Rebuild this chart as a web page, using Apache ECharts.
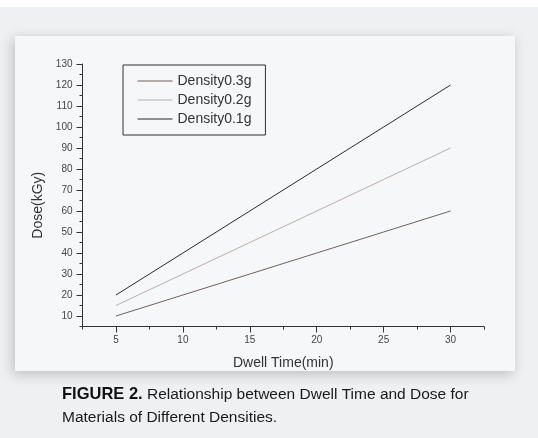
<!DOCTYPE html>
<html>
<head>
<meta charset="utf-8">
<script src="https://cdn.jsdelivr.net/npm/echarts@6/dist/echarts.min.js"></script>
<style>
  html, body { margin: 0; padding: 0; background: #eff0f2; }
  #chart { width: 538px; height: 438px; }
</style>
</head>
<body>
<div id="chart"></div>
<script>
// dwell time (min) and dose (kGy)
var dwellTime = [5, 10, 15, 20, 25, 30];
var dose03 = [10, 20, 30, 40, 50, 60];
var dose02 = [15, 30, 45, 60, 75, 90];
var dose01 = [20, 40, 60, 80, 100, 120];
var seriesNames = ['Density0.3g', 'Density0.2g', 'Density0.1g'];

// tick positions
var xMajor = [5, 10, 15, 20, 25, 30];
var xMinor = [2.5, 7.5, 12.5, 17.5, 22.5, 27.5, 32.5];
var yMajor = [10, 20, 30, 40, 50, 60, 70, 80, 90, 100, 110, 120, 130];
var yMinor = [5, 15, 25, 35, 45, 55, 65, 75, 85, 95, 105, 115, 125];

var lineColors = ['#6e625e', '#bcaeaa', '#2b2b2b'];

function pairs(xs, ys) {
    var out = [];
    for (var i = 0; i < xs.length; i++) out.push([xs[i], ys[i]]);
    return out;
}

var myChart = echarts.init(document.getElementById('chart'));

var tickFont = {fontFamily: 'Liberation Sans', fontSize: 10, color: '#444'};

var option = {
    animation: false,
    textStyle: {fontFamily: 'Liberation Sans'},
    graphic: [
        {type: 'rect', z: -10, silent: true, shape: {x: 0, y: 0, width: 538, height: 7}, style: {fill: '#ffffff'}},
        {
            type: 'rect', z: -9, silent: true,
            shape: {x: 15, y: 36, width: 500, height: 335},
            style: {fill: '#f6f7f9', shadowBlur: 12, shadowColor: 'rgba(0,0,0,0.22)', shadowOffsetX: -2, shadowOffsetY: 3}
        },
        {
            type: 'text', left: 62, top: 383, silent: true,
            style: {
                text: '{b|FIGURE 2.} Relationship between Dwell Time and Dose for\nMaterials of Different Densities.',
                fontFamily: 'Liberation Sans', fontSize: 15.5, fill: '#1a1a1a', lineHeight: 23,
                rich: {b: {fontWeight: 'bold', fontSize: 16.5, fill: '#111', fontFamily: 'Liberation Sans'}}
            }
        }
    ],
    legend: {
        orient: 'vertical',
        left: 123, top: 65,
        padding: [9, 14, 9, 14],
        itemGap: 5,
        itemWidth: 35,
        itemHeight: 14,
        borderColor: '#333',
        borderWidth: 1,
        itemStyle: {opacity: 0},
        lineStyle: {width: 1},
        textStyle: {fontFamily: 'Liberation Sans', fontSize: 14, color: '#333'},
        data: seriesNames
    },
    grid: {left: 82.5, right: 54, top: 64, bottom: 111.5, containLabel: false},
    xAxis: [
        {
            type: 'value', min: 2.5, max: 32.5,
            name: 'Dwell Time(min)', nameLocation: 'middle', nameGap: 30,
            nameTextStyle: {fontFamily: 'Liberation Sans', fontSize: 14, color: '#333'},
            axisLine: {show: true, lineStyle: {color: '#333', width: 1}},
            axisTick: {show: true, length: 6, customValues: xMajor, lineStyle: {color: '#333'}},
            axisLabel: Object.assign({margin: 9, customValues: xMajor}, tickFont),
            splitLine: {show: false}
        },
        {
            type: 'value', min: 2.5, max: 32.5, position: 'bottom', offset: 0,
            axisLine: {show: false},
            axisTick: {show: true, length: 3, customValues: xMinor, lineStyle: {color: '#333'}},
            axisLabel: {show: false},
            splitLine: {show: false}
        }
    ],
    yAxis: [
        {
            type: 'value', min: 5, max: 130,
            name: 'Dose(kGy)', nameLocation: 'middle', nameGap: 35, nameRotate: 90,
            nameTextStyle: {fontFamily: 'Liberation Sans', fontSize: 14, color: '#333', padding: [0, 20, 0, 0]},
            axisLine: {show: true, lineStyle: {color: '#333', width: 1}},
            axisTick: {show: true, length: 6, customValues: yMajor, lineStyle: {color: '#333'}},
            axisLabel: Object.assign({margin: 10, customValues: yMajor}, tickFont),
            splitLine: {show: false}
        },
        {
            type: 'value', min: 5, max: 130, position: 'left', offset: 0,
            axisLine: {show: false},
            axisTick: {show: true, length: 3, customValues: yMinor, lineStyle: {color: '#333'}},
            axisLabel: {show: false},
            splitLine: {show: false}
        }
    ],
    series: [
        {name: seriesNames[0], type: 'line', symbol: 'none', data: pairs(dwellTime, dose03),
            lineStyle: {color: lineColors[0], width: 1}, itemStyle: {color: lineColors[0]}},
        {name: seriesNames[1], type: 'line', symbol: 'none', data: pairs(dwellTime, dose02),
            lineStyle: {color: lineColors[1], width: 1}, itemStyle: {color: lineColors[1]}},
        {name: seriesNames[2], type: 'line', symbol: 'none', data: pairs(dwellTime, dose01),
            lineStyle: {color: lineColors[2], width: 1}, itemStyle: {color: lineColors[2]}}
    ]
};

myChart.setOption(option);
</script>
</body>
</html>
